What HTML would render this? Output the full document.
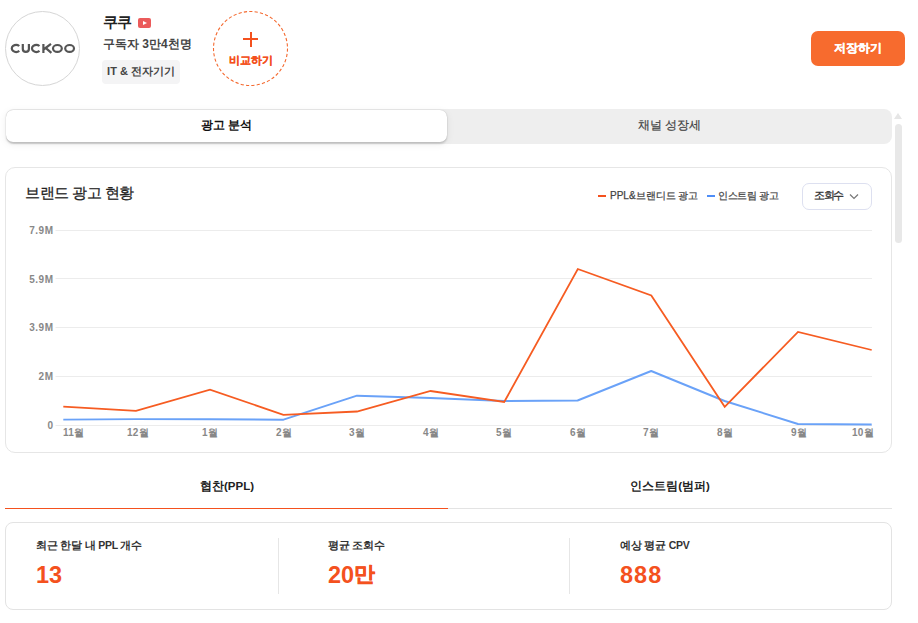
<!DOCTYPE html>
<html><head><meta charset="utf-8">
<style>
*{box-sizing:border-box;margin:0;padding:0}
html,body{width:918px;height:623px;overflow:hidden;background:#fff;font-family:"Liberation Sans",sans-serif;color:#222}
.a{position:absolute;white-space:nowrap}
.logo{left:5px;top:11px;width:75px;height:75px;border:1px solid #d6d6d6;border-radius:50%}
.logotxt{left:10px;top:41px;width:65px;font-size:13px;font-weight:bold;color:#555;letter-spacing:0.3px;text-align:center}
.name{left:103px;top:13px;font-size:14.5px;letter-spacing:-0.8px;font-weight:bold;color:#222}
.yt{left:138px;top:18px;width:13px;height:10px;background:#eb5b5b;border-radius:2px}
.yt:after{content:"";position:absolute;left:5px;top:2.5px;border-left:4px solid #fff;border-top:2.5px solid transparent;border-bottom:2.5px solid transparent}
.subs{left:103px;top:36px;font-size:12px;color:#444;font-weight:bold}
.tag{left:102px;top:60px;width:78px;height:24px;background:#f4f4f5;border-radius:4px;font-size:11px;font-weight:bold;color:#444;text-align:center;line-height:23px}
.cmp{left:213px;top:11px;width:75px;height:75px;border:1px dashed #f26b2f;border-radius:50%}
.plus1{left:243px;top:38px;width:15px;height:2px;background:#f4511e}
.plus2{left:249.5px;top:31.5px;width:2px;height:15px;background:#f4511e}
.cmptxt{left:213px;top:53px;width:75px;text-align:center;font-size:11px;font-weight:bold;color:#f4511e;-webkit-text-stroke:0.25px #f4511e}
.save{left:811px;top:31px;width:94px;height:35px;background:#f76b2e;border-radius:7px;color:#fff;font-size:11.5px;font-weight:bold;text-align:center;line-height:34px;-webkit-text-stroke:0.3px #fff}
.tabs{left:6px;top:109px;width:886px;height:35px;background:#eeeeee;border-radius:8px}
.tabon{left:6px;top:109.6px;width:441px;height:32.6px;background:#fff;border-radius:7px;box-shadow:0 0 1px rgba(0,0,0,0.2),0 1.5px 2px rgba(0,0,0,0.14),0 2px 8px rgba(0,0,0,0.07)}
.tabt1{left:6px;top:118px;width:441px;text-align:center;font-size:11.6px;font-weight:bold;color:#111}
.tabt2{left:447px;top:118px;width:445px;text-align:center;font-size:11.5px;color:#444;-webkit-text-stroke:0.2px #444}
.sbarrow{left:894px;top:113px;border-bottom:6px solid #e6e6e6;border-left:4.5px solid transparent;border-right:4.5px solid transparent}
.sbthumb{left:895px;top:124px;width:7px;height:119px;background:#e8e8e8;border-radius:4px}
.card{left:5px;top:167px;width:887px;height:286px;border:1px solid #e6e6e6;border-radius:10px}
.ctitle{left:25px;top:184px;font-size:14.6px;color:#222;-webkit-text-stroke:0.25px #222;letter-spacing:-0.5px}
.leg{top:189px;font-size:10px;color:#444;-webkit-text-stroke:0.25px #444}
.dash{height:2px;width:7.5px}
.dd{left:802px;top:183px;width:70px;height:27px;border:1px solid #dde0f0;border-radius:7px}
.ddt{left:814px;top:189px;font-size:10.5px;color:#333;-webkit-text-stroke:0.3px #333;letter-spacing:-1.3px}
.ylab{width:40px;left:13.5px;text-align:right;font-size:10px;font-weight:bold;color:#888;letter-spacing:0.5px}
.xlab{top:427px;font-size:10px;font-weight:bold;color:#888;letter-spacing:0.2px}
.w{font-size:9.5px}
.st1{left:6px;top:479px;width:442px;text-align:center;font-size:11.5px;font-weight:bold;color:#222}
.st2{left:448px;top:479px;width:444px;text-align:center;font-size:11.5px;font-weight:bold;color:#222}
.ul1{left:5px;top:508px;width:443px;height:1px;background:#f4511e}
.ul2{left:448px;top:508px;width:444px;height:1px;background:#e3e3e3}
.scard{left:5px;top:522px;width:887px;height:88px;border:1px solid #e3e3e3;border-radius:8px}
.slab{top:539px;font-size:10.5px;letter-spacing:-0.2px;font-weight:bold;color:#333}
.sval{top:561.5px;font-size:23.5px;font-weight:bold;color:#f4511e}
.div{top:538px;width:1px;height:56px;background:#e6e6e6}
</style></head><body>
<div class="a logo"></div>
<svg class="a" style="left:0;top:0" width="90" height="90"><g fill="none" stroke="#555" stroke-width="2.2">
<path d="M19.3,46 A4.4,3.4 0 1 0 19.3,50.8"/>
<path d="M22.8,43.9 V48.9 A3.05,2.9 0 0 0 28.9,48.9 V43.9"/>
<path d="M39.5,46 A4.4,3.4 0 1 0 39.5,50.8"/>
<path d="M43.4,43.9 V52.9 M43.6,49.5 L51,43.9 M45.6,47.9 L51.4,52.9"/>
<ellipse cx="57.4" cy="48.4" rx="4.4" ry="3.4"/>
<ellipse cx="69.6" cy="48.4" rx="4.4" ry="3.4"/>
</g></svg>
<div class="a name">쿠쿠</div>
<div class="a yt"></div>
<div class="a subs">구독자 3만4천명</div>
<div class="a tag">IT &amp; 전자기기</div>
<svg class="a" style="left:205px;top:3px" width="91" height="91"><circle cx="45.5" cy="45.5" r="37" fill="none" stroke="#f4692f" stroke-width="1.1" stroke-dasharray="3.2 2.2"/></svg>
<div class="a plus1"></div><div class="a plus2"></div>
<div class="a cmptxt">비교하기</div>
<div class="a save">저장하기</div>

<div class="a tabs"></div>
<div class="a tabon"></div>
<div class="a tabt1">광고 분석</div>
<div class="a tabt2">채널 성장세</div>
<div class="a sbarrow"></div>
<div class="a sbthumb"></div>

<div class="a card"></div>
<div class="a ctitle">브랜드 광고 현황</div>
<div class="a dash" style="left:598px;top:195px;background:#f4511e;position:absolute"></div>
<div class="a leg" style="left:610px">PPL&amp;브랜디드 광고</div>
<div class="a dash" style="left:707px;top:195px;background:#4f8ef7;position:absolute"></div>
<div class="a leg" style="left:718px;letter-spacing:-0.3px">인스트림 광고</div>
<div class="a dd"></div>
<div class="a ddt">조회수</div>
<svg class="a" style="left:849px;top:193px" width="10" height="8" viewBox="0 0 10 8"><path d="M1 1.5 L5 5.5 L9 1.5" fill="none" stroke="#777" stroke-width="1.2"/></svg>

<svg class="a" style="left:0;top:0" width="918" height="623">
<g stroke="#ececec" stroke-width="1">
<line x1="55.5" y1="230.5" x2="872" y2="230.5"/>
<line x1="55.5" y1="278.5" x2="872" y2="278.5"/>
<line x1="55.5" y1="327.5" x2="872" y2="327.5"/>
<line x1="55.5" y1="376.5" x2="872" y2="376.5"/>
<line x1="55.5" y1="425.5" x2="872" y2="425.5"/>
</g>
<polyline fill="none" stroke="#6aa2f8" stroke-width="1.9" stroke-linejoin="round" points="63.3,419.6 136.5,419.1 210,419.3 283.5,419.7 357,395.7 430.6,398 504.2,401 577.6,400.5 651.2,371 724.6,401 798,424 871.7,424.5"/>
<polyline fill="none" stroke="#f65c22" stroke-width="1.8" stroke-linejoin="miter" points="63.3,406.6 136,410.9 210,389.6 283.4,414.8 357,411.5 430.6,391 504.2,402 577.8,269 651.3,295.4 724.7,406.8 798,331.9 871.7,350"/>
</svg>
<div class="a ylab" style="top:225px">7.9M</div>
<div class="a ylab" style="top:274px">5.9M</div>
<div class="a ylab" style="top:322px">3.9M</div>
<div class="a ylab" style="top:371px">2M</div>
<div class="a ylab" style="top:420px">0</div>
<div class="a xlab" style="left:63px">11<span class="w">월</span></div>
<div class="a xlab" style="left:127px">12<span class="w">월</span></div>
<div class="a xlab" style="left:202px">1<span class="w">월</span></div>
<div class="a xlab" style="left:276px">2<span class="w">월</span></div>
<div class="a xlab" style="left:349px">3<span class="w">월</span></div>
<div class="a xlab" style="left:423px">4<span class="w">월</span></div>
<div class="a xlab" style="left:496px">5<span class="w">월</span></div>
<div class="a xlab" style="left:570px">6<span class="w">월</span></div>
<div class="a xlab" style="left:643px">7<span class="w">월</span></div>
<div class="a xlab" style="left:717px">8<span class="w">월</span></div>
<div class="a xlab" style="left:791px">9<span class="w">월</span></div>
<div class="a xlab" style="left:852px">10<span class="w">월</span></div>

<div class="a st1">협찬(PPL)</div>
<div class="a st2">인스트림(범퍼)</div>
<div class="a ul1"></div>
<div class="a ul2"></div>

<div class="a scard"></div>
<div class="a slab" style="left:36px">최근 한달 내 PPL 개수</div>
<div class="a sval" style="left:36px">13</div>
<div class="a div" style="left:278px"></div>
<div class="a slab" style="left:328px">평균 조회수</div>
<div class="a sval" style="left:328px">20<span style="font-size:21px;position:relative;top:-2px;-webkit-text-stroke:0.5px #f4511e">만</span></div>
<div class="a div" style="left:569px"></div>
<div class="a slab" style="left:620px">예상 평균 CPV</div>
<div class="a sval" style="left:620px;letter-spacing:1px">888</div>
</body></html>
